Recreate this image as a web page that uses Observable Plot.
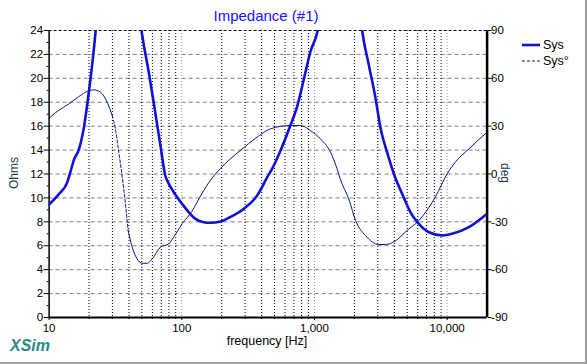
<!DOCTYPE html>
<html><head><meta charset="utf-8">
<script src="https://cdn.jsdelivr.net/npm/d3@7"></script>
<script src="https://cdn.jsdelivr.net/npm/@observablehq/plot@0.6"></script>
<style>
body{margin:0;background:#fff;font-family:"Liberation Sans",Arial,sans-serif;}
#wrap{position:relative;width:585px;height:362px;border-right:2px solid #a0a0a0;border-bottom:2px solid #a0a0a0;overflow:hidden;background:#fff}
#wrap svg{position:absolute;left:0;top:0}
.t{position:absolute;white-space:nowrap}
#title{left:166px;width:200px;text-align:center;top:7px;font-size:15px;color:#1414ff}
#ylab{left:14px;top:173px;transform:translate(-50%,-50%) rotate(-90deg);font-size:12px;color:#203850}
#y2lab{left:505px;top:173px;transform:translate(-50%,-50%) rotate(90deg);font-size:12px;color:#203850}
#xlab{left:167px;width:200px;text-align:center;top:334px;font-size:12.5px;color:#000}
#logo{left:10px;top:337px;font-size:16px;font-weight:bold;font-style:italic;color:#2a8a8a}
#legend{position:absolute;left:522px;top:37px;font-size:12.5px}
#legend div{height:16px;display:flex;align-items:center}
#legend svg{position:static;margin-right:3px}
</style>
</head><body>
<div id="wrap"></div>
<script>
// Impedance magnitude (Ohms); null = curve leaves the chart (off scale)
const impFreq = [10, 11.8, 13.7, 14.5, 15.4, 16.7, 18.3, 19.9, 21.1, 22.6, 22.9,
  30, 49.0, 49.7, 56.6, 63.4, 69, 75, 79.7, 86.8, 100.6, 113, 127, 146, 164, 196, 232, 294, 370, 444, 478, 552, 658, 743, 833, 931, 1058, 1080,
  1500, 2250, 2286, 2570, 2890, 3150, 3530, 3970, 4595, 5290, 6120, 7290, 9180, 10900, 14600, 20000];
const impOhm = [9.45, 10.3, 11.3, 12.2, 13.2, 14.0, 15.9, 18.8, 21.1, 24.4, 25.2,
  null, 24.5, 24, 20.4, 17.0, 14.4, 11.9, 11.2, 10.5, 9.5, 8.8, 8.25, 7.97, 7.92, 8.03, 8.4, 9.1, 10.2, 11.8, 12.4, 13.9, 16.05, 17.7, 19.96, 22.2, 24, 24.5,
  null, 24.6, 24, 21.1, 18.3, 15.8, 13.8, 12.0, 10.3, 8.8, 7.83, 7.13, 6.86, 7.0, 7.55, 8.67];
// Impedance phase (deg)
const phFreq = [10, 11.2, 14.1, 16.7, 19.9, 21.7, 24.4, 27.4, 29.9, 31.6, 33.5, 35.2, 37.6, 39.4, 42.3, 46, 50.3, 54.9, 59.9, 69, 79.7, 86.8, 100.6, 119, 138, 164, 196, 232, 276, 369, 465, 658, 786, 931, 1108, 1320, 1480, 1563, 1830, 2040, 2425, 3050, 3450, 4050, 4990, 6120, 8140, 10000, 11500, 14600, 17000, 20000];
const phDeg = [35, 38.5, 44.0, 48.5, 52.2, 52.8, 51.3, 45, 36.7, 28.3, 13.7, 1.1, -18.7, -35.4, -45.9, -53.2, -56, -56, -53.2, -45.9, -43.8, -39.6, -31.2, -23.5, -14, -4, 3.5, 9.5, 14.7, 23.1, 28.3, 30.4, 30.4, 27.3, 22.1, 13.7, 3.3, -3.0, -16.6, -29.2, -38.6, -44.2, -44.2, -42.1, -35.4, -29.2, -14.5, 0.1, 7.4, 15.8, 21.0, 26.2];
const xTickVals = [10, 100, 1000, 10000];
const yTickVals = [0, 2, 4, 6, 8, 10, 12, 14, 16, 18, 20, 22, 24];
const degTickVals = [90, 60, 30, 0, -30, -60, -90];
const decadeGrid = [100, 1000, 10000];
const minorGrid = [20,30,40,50,60,70,80,90,200,300,400,500,600,700,800,900,2000,3000,4000,5000,6000,7000,8000,9000];
const hGrid = [2,4,6,8,10,12,14,16,18,20,22];
const dashFrom = 29.9, dashTo = 39.4;

const degToOhm = d => (d + 90) * 24 / 180;
const imp = impFreq.map((f, i) => ({f, v: impOhm[i] == null ? NaN : impOhm[i]}));
const ph = phFreq.map((f, i) => ({f, v: degToOhm(phDeg[i])}));
const phSolid = ph.map(d => ({f: d.f, v: (d.f > dashFrom && d.f < dashTo) ? NaN : d.v}));
const phDash = ph.filter(d => d.f >= dashFrom && d.f <= dashTo);
const oddTicks = d3.range(1, 24, 2);

const W = 585, H = 362;
const chart = Plot.plot({
  width: W, height: H,
  marginLeft: 48.6, marginRight: W - 486.6, marginTop: 30, marginBottom: H - 317,
  style: {fontFamily: "'Liberation Sans', Arial, sans-serif", fontSize: "11.5px", background: "transparent", color: "#000"},
  x: {type: "log", domain: [10, 20000]},
  y: {domain: [0, 24]},
  marks: [
    Plot.ruleY(hGrid, {stroke: "#808080", strokeDasharray: "4,3", strokeWidth: 1}),
    Plot.ruleX(minorGrid, {stroke: "#000", strokeDasharray: "1,2", strokeWidth: 1}),
    Plot.ruleX(decadeGrid, {stroke: "#909090", strokeDasharray: "1,2", strokeWidth: 1}),
    Plot.ruleY([24], {stroke: "#000", strokeDasharray: "3,2", strokeWidth: 1}),
    Plot.ruleY([0], {stroke: "#000", strokeWidth: 2}),
    Plot.ruleX([10], {stroke: "#000", strokeWidth: 1.5}),
    Plot.ruleX([20000], {stroke: "#000", strokeWidth: 2.5}),
    Plot.axisY({ticks: yTickVals, tickSize: 5, tickPadding: 1, label: null, tickFormat: d => d}),
    Plot.axisY({ticks: oddTicks, tickSize: 2, tickFormat: () => "", label: null}),
    Plot.axisY({anchor: "right", ticks: degTickVals.map(degToOhm), tickSize: 4, tickPadding: 0, label: null,
      tickFormat: v => String(Math.round(v * 180 / 24 - 90))}),
    Plot.axisX({ticks: xTickVals, tickSize: 3, tickPadding: 3, label: null, tickFormat: d3.format(",")}),
    Plot.axisX({ticks: minorGrid, tickSize: 2, tickFormat: () => "", label: null}),
    Plot.line(phSolid, {x: "f", y: "v", stroke: "#101090", strokeWidth: 1, curve: "monotone-x", clip: true}),
    Plot.line(phDash, {x: "f", y: "v", stroke: "#101090", strokeWidth: 1, strokeDasharray: "3,2", curve: "monotone-x", clip: true}),
    Plot.line(imp, {x: "f", y: "v", stroke: "#1010d8", strokeWidth: 2.6, curve: "monotone-x", clip: true})
  ]
});
const wrap = document.getElementById("wrap");
wrap.appendChild(chart);
wrap.insertAdjacentHTML("beforeend", `
<div class="t" id="title">Impedance (#1)</div>
<div class="t" id="ylab">Ohms</div>
<div class="t" id="y2lab">deg</div>
<div class="t" id="xlab">frequency [Hz]</div>
<div class="t" id="logo">XSim</div>
<div id="legend">
  <div><svg width="18" height="6"><line x1="0" y1="3" x2="18" y2="3" stroke="#1010d8" stroke-width="2.6"/></svg>Sys</div>
  <div><svg width="18" height="6"><line x1="0" y1="3" x2="18" y2="3" stroke="#101090" stroke-width="1" stroke-dasharray="3,2"/></svg>Sys°</div>
</div>`);
</script>
</body></html>
